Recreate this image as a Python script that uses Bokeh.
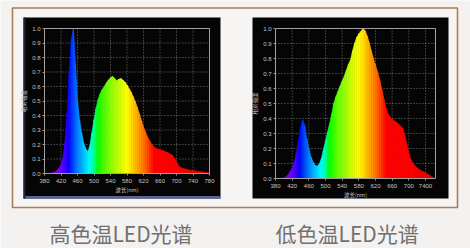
from bokeh.plotting import figure
from bokeh.models import Range1d, LinearAxis, FixedTicker
from bokeh.core.properties import value
from bokeh.embed import file_html
from bokeh.resources import INLINE

# ---------------- data ----------------
wavelengths_high = list(range(380, 785, 5))
intensity_high = [
    0.0, 0.0, 0.0, 0.003, 0.005, 0.01, 0.02, 0.035, 0.06, 0.11,
    0.22, 0.42, 0.70, 0.92, 1.0, 0.76, 0.50, 0.37, 0.28, 0.21,
    0.17, 0.15, 0.19, 0.28, 0.37, 0.45, 0.51, 0.55, 0.58, 0.60,
    0.625, 0.645, 0.66, 0.67, 0.655, 0.64, 0.65, 0.655, 0.645, 0.63,
    0.61, 0.585, 0.56, 0.53, 0.495, 0.455, 0.41, 0.365, 0.32, 0.285,
    0.25, 0.225, 0.20, 0.185, 0.175, 0.168, 0.163, 0.16, 0.155, 0.148,
    0.142, 0.135, 0.125, 0.105, 0.08, 0.055, 0.042, 0.036, 0.032, 0.028,
    0.025, 0.022, 0.02, 0.018, 0.016, 0.014, 0.012, 0.01, 0.008, 0.006,
    0.004,
]
wavelengths_low = list(range(380, 765, 5))
intensity_low = [
    0.0, 0.0, 0.0, 0.002, 0.005, 0.01, 0.025, 0.045, 0.07, 0.11,
    0.17, 0.25, 0.34, 0.39, 0.355, 0.27, 0.20, 0.145, 0.11, 0.088,
    0.082, 0.095, 0.13, 0.19, 0.25, 0.31, 0.365, 0.43, 0.50, 0.545,
    0.58, 0.615, 0.65, 0.68, 0.72, 0.76, 0.79, 0.85, 0.90, 0.94,
    0.965, 0.98, 1.0, 0.985, 0.95, 0.905, 0.85, 0.80, 0.755, 0.71,
    0.66, 0.595, 0.53, 0.47, 0.43, 0.41, 0.395, 0.385, 0.375, 0.365,
    0.35, 0.335, 0.29, 0.23, 0.17, 0.125, 0.10, 0.085, 0.07, 0.06,
    0.052, 0.045, 0.038, 0.03, 0.022, 0.012, 0.005,
]
x_ticks_high = [380, 420, 460, 500, 540, 580, 620, 660, 700, 740, 780]
x_tick_labels_high = ["380", "420", "460", "500", "540", "580", "620", "660", "700", "740", "780"]
x_ticks_low = [380, 420, 460, 500, 540, 580, 620, 660, 700, 740]
x_tick_labels_low = ["380", "420", "460", "500", "540", "580", "620", "660", "700", "7400"]
y_ticks = [0.0, 0.1, 0.2, 0.3, 0.4, 0.5, 0.6, 0.7, 0.8, 0.9, 1.0]
y_tick_labels = ["0.0", "0.1", "0.2", "0.3", "0.4", "0.5", "0.6", "0.7", "0.8", "0.9", "1.0"]
x_axis_title = "波长(nm)"
y_axis_title = "相对强度"
captions = ["高色温LED光谱", "低色温LED光谱"]


def wl_color(w):
    if w < 440:
        r, g, b = -(w - 440) / 60.0, 0.0, 1.0
    elif w < 490:
        r, g, b = 0.0, (w - 440) / 50.0, 1.0
    elif w < 510:
        r, g, b = 0.0, 1.0, -(w - 510) / 20.0
    elif w < 580:
        r, g, b = (w - 510) / 70.0, 1.0, 0.0
    elif w < 645:
        r, g, b = 1.0, -(w - 645) / 65.0, 0.0
    else:
        r, g, b = 1.0, 0.0, 0.0
    if w < 420:
        f = 0.35 + 0.65 * (w - 380) / 40.0
    elif w > 700:
        f = 1.0 - 0.2 * (w - 700) / 80.0
    else:
        f = 1.0
    vals = []
    for c in (r, g, b):
        vals.append(int(round(255 * (c * f) ** 0.8)) if c > 0 else 0)
    return "#%02x%02x%02x" % tuple(vals)


W, H = 470, 248
p = figure(width=W, height=H, x_range=Range1d(0, W), y_range=Range1d(H, 0),
           x_axis_type=None, y_axis_type=None, toolbar_location=None,
           output_backend="svg", min_border=0)
p.background_fill_color = "#f3f2f1"
p.border_fill_color = "#f3f2f1"
p.outline_line_color = None

# chart ranges mapped onto the canvas
p.extra_x_ranges = {
    "hx": Range1d(380 - 44 * 400 / 165, 380 + (W - 44) * 400 / 165),
    "lx": Range1d(380 - 275 * 2.4, 380 + (W - 275) * 2.4),
}
p.extra_y_ranges = {
    "hy": Range1d(-(H - 173) / 145, 173 / 145),
    "ly": Range1d(-(H - 178) / 150, 178 / 150),
}

# outer frame and dark panels
p.quad(left=12, right=457, top=7.5, bottom=207, fill_color="#f7f5f3",
       line_color="#ad7c52", line_width=1.6)
p.quad(left=[23, 252], right=[220, 448], top=[17, 17], bottom=[198, 198],
       fill_color="#050505", line_color=None)
p.quad(left=23, right=220, top=195.5, bottom=198, fill_color="#55659a", line_color=None)
p.quad(left=23, right=25, top=17, bottom=198, fill_color="#1b2438", line_color=None)


def draw_chart(xn, yn, wl, inten, x_lo, x_hi, xticks, xlabels):
    grid_kw = dict(line_color="#8c8c8c", line_width=0.8, line_dash="1 2",
                   x_range_name=xn, y_range_name=yn)
    vx = [t for t in xticks if x_lo < t < x_hi]
    p.segment(x0=vx, y0=[0] * len(vx), x1=vx, y1=[1] * len(vx), **grid_kw)
    hy = [t for t in y_ticks if 0 < t < 1]
    p.segment(x0=[x_lo] * len(hy), y0=hy, x1=[x_hi] * len(hy), y1=hy, **grid_kw)

    xs, ys, cols = [], [], []
    for i in range(len(wl) - 1):
        xs.append([wl[i], wl[i + 1], wl[i + 1], wl[i]])
        ys.append([0, 0, inten[i + 1], inten[i]])
        cols.append(wl_color((wl[i] + wl[i + 1]) / 2))
    p.patches(xs, ys, fill_color=cols, line_color=cols, line_width=0.7,
              x_range_name=xn, y_range_name=yn)

    p.quad(left=x_lo, right=x_hi, bottom=0, top=1, fill_color=None,
           line_color="#a0a0a0", line_width=1, x_range_name=xn, y_range_name=yn)

    common = dict(axis_line_color=None, major_tick_line_color="#9a9a9a",
                  major_tick_out=2, major_tick_in=0, minor_tick_line_color=None,
                  major_label_text_color="#c4c4c4", major_label_text_font_size="6px",
                  major_label_text_font="Liberation Sans",
                  axis_label_text_color="#c4c4c4", axis_label_text_font_size="5.5px",
                  axis_label_text_font="Noto Sans CJK SC",
                  axis_label_text_font_style="normal",
                  x_range_name=xn, y_range_name=yn)
    xa = LinearAxis(fixed_location=0, bounds=(x_lo, x_hi),
                    ticker=FixedTicker(ticks=xticks),
                    major_label_overrides={t: l for t, l in zip(xticks, xlabels)},
                    axis_label=x_axis_title, major_label_standoff=3,
                    axis_label_standoff=0, **common)
    p.add_layout(xa, "below")
    ya = LinearAxis(fixed_location=x_lo, bounds=(0, 1),
                    ticker=FixedTicker(ticks=y_ticks),
                    major_label_overrides={t: l for t, l in zip(y_ticks, y_tick_labels)},
                    axis_label=y_axis_title, major_label_standoff=2,
                    axis_label_standoff=1, **common)
    p.add_layout(ya, "left")


draw_chart("hx", "hy", wavelengths_high, intensity_high, 380, 780,
           x_ticks_high, x_tick_labels_high)
draw_chart("lx", "ly", wavelengths_low, intensity_low, 380, 764,
           x_ticks_low, x_tick_labels_low)

p.text(x=[120.5, 346.7], y=[232.5, 232.5], text=captions,
       text_font=value("Noto Sans CJK SC"), text_font_size="21px",
       text_align="center", text_baseline="middle", text_color="#707070")

open("out.html", "w").write(file_html(p, INLINE))
